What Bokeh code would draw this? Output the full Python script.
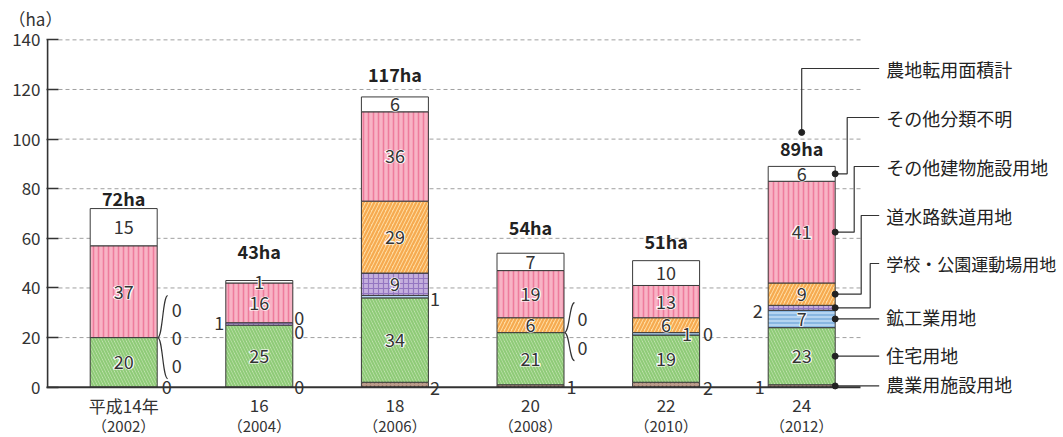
import numpy as np
from bokeh.plotting import figure
from bokeh.models import FixedTicker, ColumnDataSource, Range1d
from bokeh.core.properties import value
from bokeh.embed import file_html
from bokeh.resources import INLINE

FONT = "Noto Sans CJK JP"

# ---------------- data ----------------
era_labels = ["平成14年", "16", "18", "20", "22", "24"]
year_labels = ["（2002）", "（2004）", "（2006）", "（2008）", "（2010）", "（2012）"]
series_names = ["農業用施設用地", "住宅用地", "鉱工業用地", "学校・公園運動場用地",
                "道水路鉄道用地", "その他建物施設用地", "その他分類不明"]
agri = [0, 0, 2, 1, 2, 1]
housing = [20, 25, 34, 21, 19, 23]
industry = [0, 0, 1, 0, 1, 7]
school = [0, 1, 9, 0, 0, 2]
road = [0, 0, 29, 6, 6, 9]
other_bldg = [37, 16, 36, 19, 13, 41]
unknown = [15, 1, 6, 7, 10, 6]
totals = [72, 43, 117, 54, 51, 89]
total_name = "農地転用面積計"
y_ticks = [0, 20, 40, 60, 80, 100, 120, 140]
unit_label = "（ha）"

series = [agri, housing, industry, school, road, other_bldg, unknown]

# ---------------- styles ----------------
styles = [
    dict(fill="#bb9c8c", hatch=".", hc="#74523f", hs=4, hw=1.5),
    dict(fill="#cde8bb", hatch="\\", hc="#8fcb78", hs=6, hw=2.2),
    dict(fill="#b5d4f1", hatch="-", hc="#6ba3d8", hs=4, hw=1.2),
    dict(fill="#c4afdd", hatch="+", hc="#9476c1", hs=5, hw=1.2),
    dict(fill="#fedca2", hatch="/", hc="#f6aa50", hs=7, hw=2.2),
    dict(fill="#f8b3c5", hatch="|", hc="#ee7b9c", hs=5, hw=1.6),
    dict(fill="#ffffff", hatch=" ", hc="#ffffff", hs=5, hw=1),
]
legend_sizes = {3: "17px"}

# ---------------- layout ----------------
W, H = 1063, 437
LEFT, TOP = 46, 32
XS = 135.6           # px per category step
YS = 2.481           # px per ha
Y0PX = 386.7         # pixel row of value 0
x_start = -(123.2 - LEFT) / XS
x_end = x_start + (W - LEFT) / XS
y_end = (Y0PX - TOP) / YS
y_start = -(H - Y0PX) / YS
BAR_W = 67 / XS

def dx(px):
    return px / XS

def dy(px):
    return px / YS

p = figure(width=W, height=H, x_range=Range1d(x_start, x_end), y_range=Range1d(y_start, y_end),
           output_backend="svg", toolbar_location=None, x_axis_location=None,
           min_border_left=LEFT, min_border_right=0, min_border_top=TOP, min_border_bottom=0,
           title=unit_label)
p.outline_line_color = None
p.xgrid.visible = False
p.ygrid.visible = False
p.background_fill_color = "white"

p.title.align = "left"
p.title.offset = -38
p.title.standoff = 0
p.title.vertical_align = "top"
p.title.text_font = FONT
p.title.text_font_size = "17px"
p.title.text_font_style = "normal"
p.title.text_color = "#333333"

ya = p.yaxis[0]
ya.ticker = FixedTicker(ticks=y_ticks)
ya.axis_line_color = None
ya.major_tick_in = 12
ya.major_tick_out = 0
ya.minor_tick_line_color = None
ya.major_tick_line_color = "#333333"
ya.major_tick_line_width = 1.5
ya.major_label_text_font = FONT
ya.major_label_text_font_size = "17px"
ya.major_label_text_color = "#333333"
ya.major_label_standoff = 6

grid_end = 5 + dx(860 - 801.2)
n = len(era_labels)
xs_idx = list(range(n))

# grid lines
p.multi_line(xs=[[x_start + dx(12), grid_end] for _ in y_ticks[1:]],
             ys=[[v, v] for v in y_ticks[1:]],
             line_color="#a0a0a0", line_width=1, line_dash="4 3")

# stacked bars
arr = np.array(series, dtype=float)
bottoms = np.vstack([np.zeros(n), np.cumsum(arr, axis=0)[:-1]])
tops = np.cumsum(arr, axis=0)
for s, st in enumerate(styles):
    keep = [i for i in xs_idx if series[s][i] > 0]
    src = ColumnDataSource(dict(x=keep, bottom=[bottoms[s][i] for i in keep],
                                top=[tops[s][i] for i in keep]))
    p.vbar(x="x", bottom="bottom", top="top", width=BAR_W, source=src,
           fill_color=st["fill"], line_color="#3a3a3a", line_width=1,
           hatch_pattern=st["hatch"], hatch_color=st["hc"],
           hatch_scale=st["hs"], hatch_weight=st["hw"])

# baseline and y axis line
p.segment(x0=[x_start], y0=[0], x1=[grid_end], y1=[0], line_color="#333333", line_width=2)
p.segment(x0=[x_start + dx(1)], y0=[0], x1=[x_start + dx(1)], y1=[y_ticks[-1]],
          line_color="#333333", line_width=1.8)

def halo_text(xv, yv, tv, size="18px", color="#333333"):
    kw = dict(x=xv, y=yv, text=tv, text_font=value(FONT), text_font_size=size,
              text_align="center", text_baseline="middle")
    try:
        p.text(text_color="white", text_outline_color="white", text_font_style="bold", **kw)
    except Exception:
        pass
    p.text(text_color=color, **kw)

def plain_text(xv, yv, tv, size="17px", color="#333333", align="center", style="normal"):
    p.text(x=xv, y=yv, text=tv, text_font=value(FONT), text_font_size=size,
           text_color=color, text_align=align, text_baseline="middle", text_font_style=style)

# small labels: (bar, series, dx px from centre, dy px, halo)
small = [
    (0, 0, 43, 0, False), (0, 4, 53, -28, False), (0, 3, 53, 0, False), (0, 2, 53, 28, False),
    (1, 0, 40, 0, False), (1, 4, 40, -9, False), (1, 2, 40, 7, False), (1, 3, -40, 1, False),
    (1, 6, 0, 0, True),
    (2, 2, 40, -2, False), (2, 0, 40, -3, False),
    (3, 0, 41, -1, False), (3, 3, 52, 14, False), (3, 2, 52, -15, False),
    (4, 2, 21, 0, True), (4, 3, 42, -1, False), (4, 0, 42, -3, False),
    (5, 3, -44, -3, False), (5, 0, -42, -1, False),
]
small_keys = {(b, s) for b, s, *_ in small}

# inside labels
ix, iy, it = [], [], []
for s in range(len(series)):
    for i in xs_idx:
        v = series[s][i]
        if v >= 5 and (i, s) not in small_keys:
            ix.append(i); iy.append((bottoms[s][i] + tops[s][i]) / 2); it.append(str(v))
hx, hy, ht = [], [], []
px_, py_, pt_ = [], [], []
for b, s, ox, oy, halo in small:
    mid = (bottoms[s][b] + tops[s][b]) / 2
    xv, yv = b + dx(ox), mid + dy(oy)
    if halo:
        hx.append(xv); hy.append(yv); ht.append(str(series[s][b]))
    else:
        px_.append(xv); py_.append(yv); pt_.append(str(series[s][b]))
halo_text(ix + hx, iy + hy, it + ht)
plain_text(px_, py_, pt_, size="18px")

# braces
def brace(b, tip, up_px, down_px):
    xt, xm, xa = b + dx(34), b + dx(39), b + dx(44)
    yt, ytop, ybot = tip, tip + dy(up_px), tip - dy(down_px)
    p.bezier(x0=[xa, xa], y0=[ytop, ybot], x1=[xt, xt], y1=[yt, yt],
             cx0=[xm, xm], cy0=[ytop, ybot], cx1=[xm, xm], cy1=[yt, yt],
             line_color="#333333", line_width=1.2)

brace(0, tops[1][0], 42, 41)
brace(3, tops[1][3], 30, 28)

# totals
gaps = [11, 30, 23, 26, 20, 18]
plain_text(xs_idx, [t + dy(g) for t, g in zip(totals, gaps)], [f"{t}ha" for t in totals],
           size="18px", color="#222222", style="bold")

# category labels
plain_text(xs_idx, [dy(-(405 - Y0PX))] * n, era_labels, size="17px")
plain_text(xs_idx, [dy(-(425 - Y0PX))] * n, year_labels, size="15px")

# legend with leader lines on last bar
last = n - 1
right = last + BAR_W / 2
line_end = right + dx(44)
text_x = right + dx(51)
leg_y_px = [68, 117, 166, 215, 263]
elbows = [None, 12, 19, 26, 35]
leg_series = [None, 6, 5, 4, 3]
lx, ly, dxs, dys = [], [], [], []
for k in range(5):
    yl = dy(Y0PX - leg_y_px[k])
    if k == 0:
        dot = (last, totals[last] + dy(34))
        lx.append([line_end, last, last]); ly.append([yl, yl, dot[1]])
        name = total_name
        size = "18px"
    else:
        s = leg_series[k]
        mid = (bottoms[s][last] + tops[s][last]) / 2
        dot = (right, mid)
        ex = right + dx(elbows[k])
        lx.append([line_end, ex, ex, right]); ly.append([yl, yl, mid, mid])
        name = series_names[s]
        size = legend_sizes.get(s, "18px")
    dxs.append(dot[0]); dys.append(dot[1])
    plain_text([text_x], [yl], [name], size=size, color="#222222", align="left")
for s in [2, 1, 0]:
    mid = (bottoms[s][last] + tops[s][last]) / 2
    lx.append([right, line_end]); ly.append([mid, mid])
    dxs.append(right); dys.append(mid)
    plain_text([text_x], [mid + dy(1.5)], [series_names[s]], size="18px", color="#222222", align="left")
p.multi_line(xs=lx, ys=ly, line_color="#333333", line_width=1.2)
p.scatter(x=dxs, y=dys, size=6, color="#222222")

open("out.html", "w").write(file_html(p, INLINE))
